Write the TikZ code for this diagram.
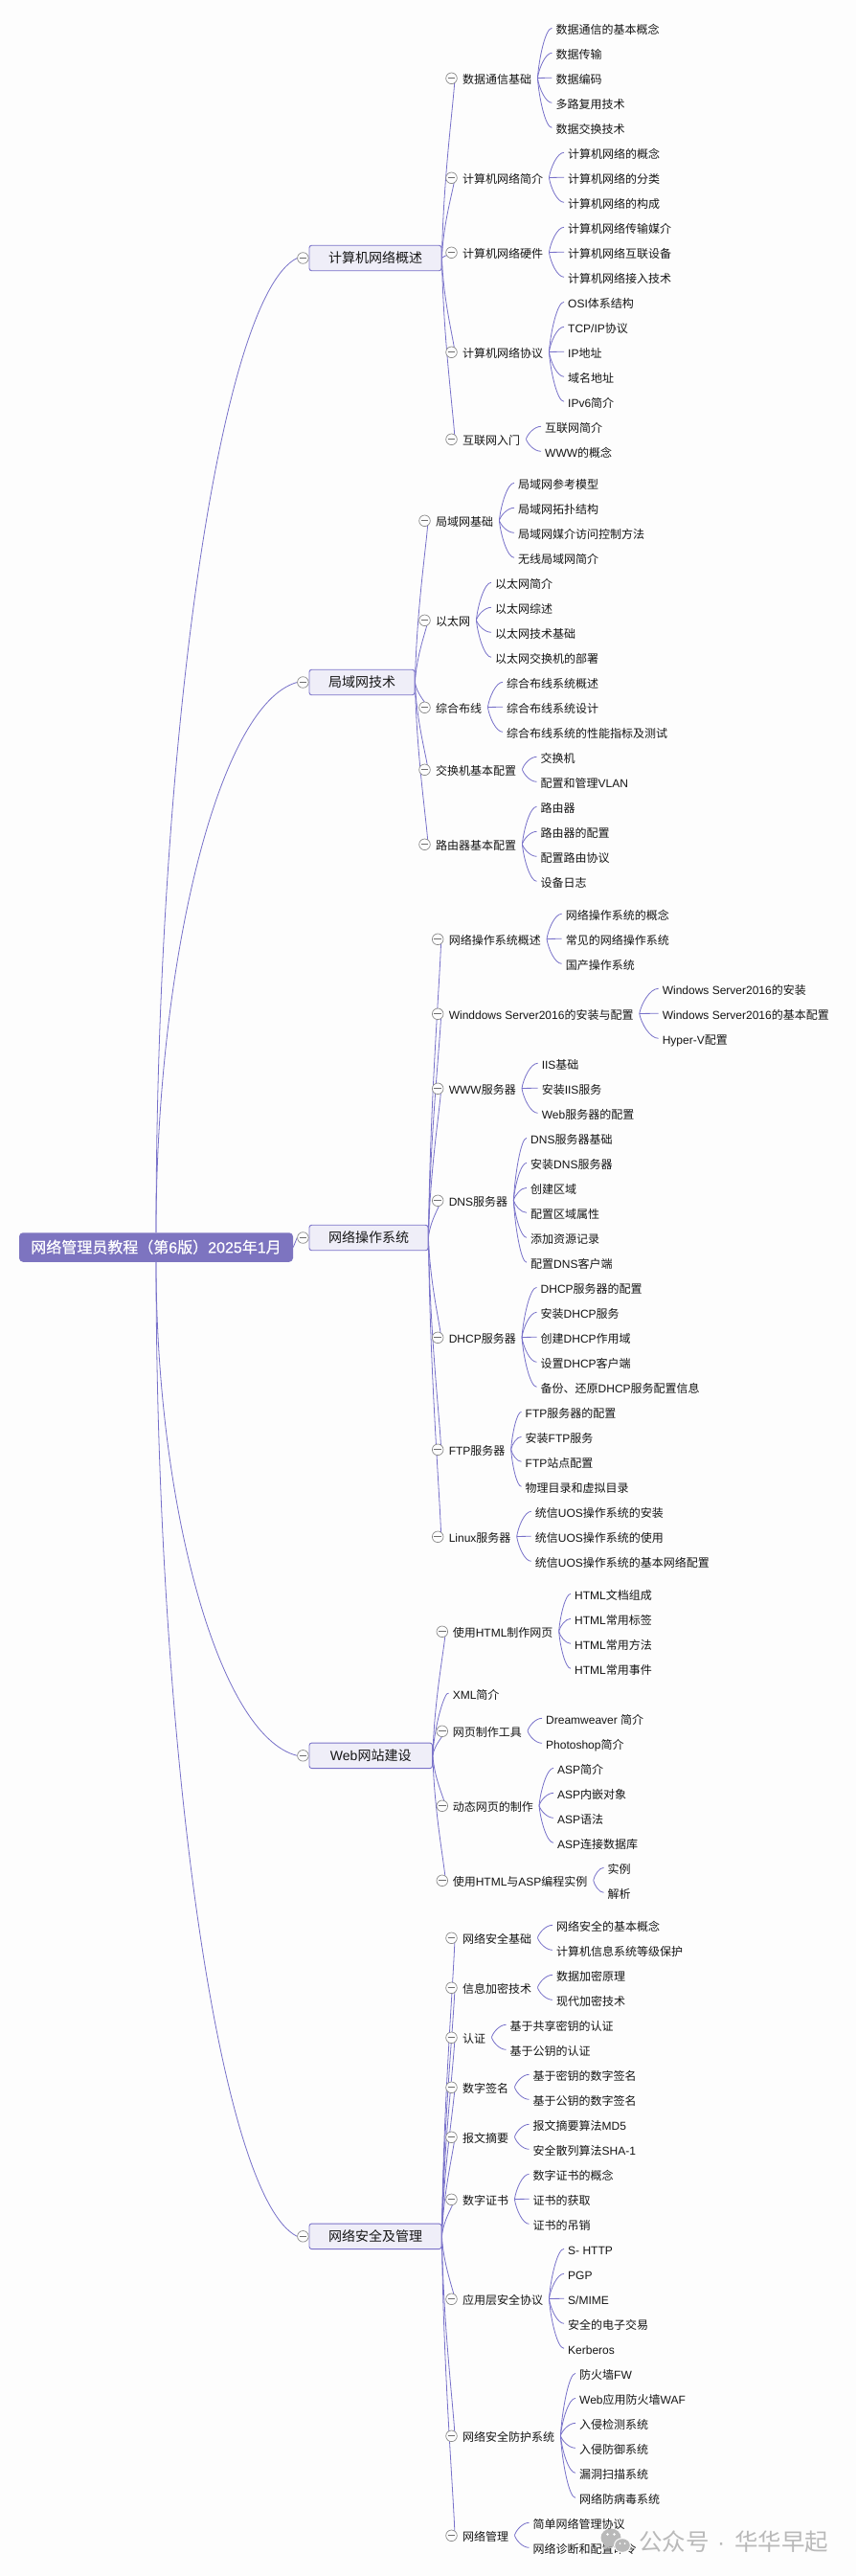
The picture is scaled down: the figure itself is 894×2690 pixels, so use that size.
\documentclass[tikz,border=0pt]{standalone}
\usepackage{fontspec}
\setmainfont{Noto Sans CJK SC}
\newfontfamily\latf{Liberation Sans}
\newfontfamily\rootzh[FakeBold=0.35]{Noto Sans CJK SC}
\newfontfamily\rootla[FakeBold=0.35]{Liberation Sans}
\newcommand\la[1]{{\latf #1}}
\newcommand\rl[1]{{\rootla #1}}
\usetikzlibrary{calc}
\definecolor{bgc}{HTML}{FDFDFD}
\definecolor{conc}{HTML}{7770C9}
\definecolor{boxf}{HTML}{EFEEF8}
\definecolor{boxd}{HTML}{7B73C9}
\definecolor{rootf}{HTML}{7D74C0}
\definecolor{txtc}{HTML}{151515}
\definecolor{circd}{HTML}{8A8A8A}
\definecolor{wmk}{HTML}{B9B9B9}
\pgfdeclarelayer{bg}
\pgfsetlayers{bg,main}
\tikzset{
  conn/.style={draw=conc,line width=0.8pt},
  rootbox/.style={fill=rootf,text=white,rounded corners=4pt,font=\fontsize{16}{18}\rootzh,minimum width=286pt,minimum height=30.5pt,inner sep=0pt,text height=13pt,text depth=1.4pt},
  topbox/.style={fill=boxf,draw=boxd,line width=0.9pt,text=txtc,rounded corners=2.5pt,font=\fontsize{14}{16}\selectfont,minimum height=26.5pt,inner sep=0pt,text height=11.4pt,text depth=1.2pt},
  lab/.style={text=txtc,font=\fontsize{12}{14}\selectfont,inner sep=0pt,anchor=west,text height=10pt,text depth=1.2pt},
  circ/.style={circle,draw=circd,fill=bgc,line width=0.7pt,minimum size=11.6pt,inner sep=0pt},
  minusbar/.style={draw=circd!80!black,line width=0.7pt},
  wmtext/.style={text=wmk,font=\fontsize{24.5}{26}\selectfont,inner sep=0pt,anchor=west,text height=20pt,text depth=2pt}
}
% topic box with its fold circle: name, right x, centre y, text
\newcommand\topic[4]{%
  \pgfmathsetmacro\tw{#2-323}%
  \node[topbox,minimum width=\tw pt] (#1) at ({323+\tw/2},#3) {#4};
  \node[circ] (#1c) at (316.4,#3) {};
  \draw[minusbar] ($(#1c.center)+(-3.8,0)$) -- ($(#1c.center)+(3.8,0)$);
}
% curve from the root to a topic circle: topic, root anchor
\newcommand\rootline[2]{%
  \begin{pgfonlayer}{bg}
  \draw[conn] let \p1=(root.#2), \p2=(#1c.west) in
    (\p1) .. controls (\x1,{\y1+0.49*(\y2-\y1)}) and ({\x1+65pt},{\y2+0.04*(\y1-\y2)}) .. (\p2);
  \end{pgfonlayer}
}
% section: name, parent, y, text (uses \cx and \tx)
\newcommand\sect[4]{%
  \node[lab] (#1) at (\tx,#3) {#4};
  \node[circ] (#1c) at (\cx,{#3-1.2}) {};
  \draw[minusbar] ($(#1c.center)+(-3.8,0)$) -- ($(#1c.center)+(3.8,0)$);
  \begin{pgfonlayer}{bg}
  \draw[conn] let \p1=(#2.east), \p2=($(#1c.center)+(3.5,0)$) in
    (\p1) .. controls ({\x1+1.5pt},{\y1+0.45*(\y2-\y1)}) and ({\x2-1.5pt},{\y1+0.85*(\y2-\y1)}) .. (\p2);
  \end{pgfonlayer}
}
% leaf: name, parent, x, y, text
\newcommand\leaf[5]{%
  \node[lab] (#1) at (#3,#4) {#5};
  \begin{pgfonlayer}{bg}
  \draw[conn] let \p1=($(#2.east)+(6,-1.5)$), \p2=($(#1.west)+(-4,-1.7)$) in
    (\p1) .. controls ({\x1+0.1*(\x2-\x1)},{\y1+0.4*(\y2-\y1)}) and ({\x1+0.55*(\x2-\x1)},\y2) .. (\p2);
  \end{pgfonlayer}
}
\begin{document}
\begin{tikzpicture}[x=1pt,y=-1pt]
\begin{pgfonlayer}{bg}
\fill[bgc] (0,0) rectangle (894,2690);
\end{pgfonlayer}
\useasboundingbox (0,0) rectangle (894,2690);

\node[rootbox] (root) at (163,1302.5) {网络管理员教程（第\rl{6}版）\rl{2025}年\rl{1}月};

\topic{t1}{461}{269.5}{计算机网络概述}
\topic{t2}{433}{712.5}{局域网技术}
\topic{t3}{447}{1292.5}{网络操作系统}
\topic{t4}{451.5}{1833.3}{\la{Web}网站建设}
\topic{t5}{461}{2335.3}{网络安全及管理}
\rootline{t1}{north}
\rootline{t2}{north}
\rootline{t4}{south}
\rootline{t5}{south}
\begin{pgfonlayer}{bg}
\draw[conn] (root.east) -- (t3c.west);
\end{pgfonlayer}

% ---- group 1
\def\cx{471.5}\def\tx{483}
\sect{a}{t1}{83}{数据通信基础}
\sect{b}{t1}{187}{计算机网络简介}
\sect{c}{t1}{265}{计算机网络硬件}
\sect{d}{t1}{369}{计算机网络协议}
\sect{e}{t1}{460}{互联网入门}
\leaf{a1}{a}{580.4}{31}{数据通信的基本概念}
\leaf{a2}{a}{580.4}{57}{数据传输}
\leaf{a3}{a}{580.4}{83}{数据编码}
\leaf{a4}{a}{580.4}{109}{多路复用技术}
\leaf{a5}{a}{580.4}{135}{数据交换技术}
\leaf{b1}{b}{593}{161}{计算机网络的概念}
\leaf{b2}{b}{593}{187}{计算机网络的分类}
\leaf{b3}{b}{593}{213}{计算机网络的构成}
\leaf{c1}{c}{593}{239}{计算机网络传输媒介}
\leaf{c2}{c}{593}{265}{计算机网络互联设备}
\leaf{c3}{c}{593}{291}{计算机网络接入技术}
\leaf{d1}{d}{593}{317}{\la{OSI}体系结构}
\leaf{d2}{d}{593}{343}{\la{TCP/IP}协议}
\leaf{d3}{d}{593}{369}{\la{IP}地址}
\leaf{d4}{d}{593}{395}{域名地址}
\leaf{d5}{d}{593}{421}{\la{IPv6}简介}
\leaf{e1}{e}{569}{447}{互联网简介}
\leaf{e2}{e}{569}{473}{\la{WWW}的概念}

% ---- group 2
\def\cx{443.5}\def\tx{455}
\sect{f}{t2}{545}{局域网基础}
\sect{g}{t2}{649}{以太网}
\sect{h}{t2}{740}{综合布线}
\sect{i}{t2}{805}{交换机基本配置}
\sect{j}{t2}{883}{路由器基本配置}
\leaf{f1}{f}{541}{506}{局域网参考模型}
\leaf{f2}{f}{541}{532}{局域网拓扑结构}
\leaf{f3}{f}{541}{558}{局域网媒介访问控制方法}
\leaf{f4}{f}{541}{584}{无线局域网简介}
\leaf{g1}{g}{517}{610}{以太网简介}
\leaf{g2}{g}{517}{636}{以太网综述}
\leaf{g3}{g}{517}{662}{以太网技术基础}
\leaf{g4}{g}{517}{688}{以太网交换机的部署}
\leaf{h1}{h}{529}{714}{综合布线系统概述}
\leaf{h2}{h}{529}{740}{综合布线系统设计}
\leaf{h3}{h}{529}{766}{综合布线系统的性能指标及测试}
\leaf{i1}{i}{564.5}{792}{交换机}
\leaf{i2}{i}{564.5}{818}{配置和管理\la{VLAN}}
\leaf{j1}{j}{564.5}{844}{路由器}
\leaf{j2}{j}{564.5}{870}{路由器的配置}
\leaf{j3}{j}{564.5}{896}{配置路由协议}
\leaf{j4}{j}{564.5}{922}{设备日志}

% ---- group 3
\def\cx{457.2}\def\tx{468.6}
\sect{k}{t3}{982}{网络操作系统概述}
\sect{l}{t3}{1060}{\la{Winddows Server2016}的安装与配置}
\sect{m}{t3}{1138}{\la{WWW}服务器}
\sect{n}{t3}{1255}{\la{DNS}服务器}
\sect{o}{t3}{1398}{\la{DHCP}服务器}
\sect{p}{t3}{1515}{\la{FTP}服务器}
\sect{q}{t3}{1606}{\la{Linux}服务器}
\leaf{k1}{k}{590.6}{956}{网络操作系统的概念}
\leaf{k2}{k}{590.6}{982}{常见的网络操作系统}
\leaf{k3}{k}{590.6}{1008}{国产操作系统}
\leaf{l1}{l}{691.6}{1034}{\la{Windows Server2016}的安装}
\leaf{l2}{l}{691.6}{1060}{\la{Windows Server2016}的基本配置}
\leaf{l3}{l}{691.6}{1086}{\la{Hyper-V}配置}
\leaf{m1}{m}{565.6}{1112}{\la{IIS}基础}
\leaf{m2}{m}{565.6}{1138}{安装\la{IIS}服务}
\leaf{m3}{m}{565.6}{1164}{\la{Web}服务器的配置}
\leaf{n1}{n}{554}{1190}{\la{DNS}服务器基础}
\leaf{n2}{n}{554}{1216}{安装\la{DNS}服务器}
\leaf{n3}{n}{554}{1242}{创建区域}
\leaf{n4}{n}{554}{1268}{配置区域属性}
\leaf{n5}{n}{554}{1294}{添加资源记录}
\leaf{n6}{n}{554}{1320}{配置\la{DNS}客户端}
\leaf{o1}{o}{564.5}{1346}{\la{DHCP}服务器的配置}
\leaf{o2}{o}{564.5}{1372}{安装\la{DHCP}服务}
\leaf{o3}{o}{564.5}{1398}{创建\la{DHCP}作用域}
\leaf{o4}{o}{564.5}{1424}{设置\la{DHCP}客户端}
\leaf{o5}{o}{564.5}{1450}{备份、还原\la{DHCP}服务配置信息}
\leaf{p1}{p}{548.5}{1476}{\la{FTP}服务器的配置}
\leaf{p2}{p}{548.5}{1502}{安装\la{FTP}服务}
\leaf{p3}{p}{548.5}{1528}{\la{FTP}站点配置}
\leaf{p4}{p}{548.5}{1554}{物理目录和虚拟目录}
\leaf{q1}{q}{558.7}{1580}{统信\la{UOS}操作系统的安装}
\leaf{q2}{q}{558.7}{1606}{统信\la{UOS}操作系统的使用}
\leaf{q3}{q}{558.7}{1632}{统信\la{UOS}操作系统的基本网络配置}

% ---- group 4
\def\cx{461.8}\def\tx{472.6}
\sect{r}{t4}{1705}{使用\la{HTML}制作网页}
\node[lab] (xml) at (\tx,1770) {\la{XML}简介};
\begin{pgfonlayer}{bg}
\draw[conn] let \p1=(t4.east), \p2=($(xml.west)+(-4,-1.7)$) in
  (\p1) .. controls ({\x1+1.5pt},{\y1+0.5*(\y2-\y1)}) and ({\x2-3.5pt},{\y2+4pt}) .. (\p2);
\end{pgfonlayer}
\sect{s}{t4}{1809}{网页制作工具}
\sect{u}{t4}{1887}{动态网页的制作}
\sect{v}{t4}{1965}{使用\la{HTML}与\la{ASP}编程实例}
\leaf{r1}{r}{600}{1666}{\la{HTML}文档组成}
\leaf{r2}{r}{600}{1692}{\la{HTML}常用标签}
\leaf{r3}{r}{600}{1718}{\la{HTML}常用方法}
\leaf{r4}{r}{600}{1744}{\la{HTML}常用事件}
\leaf{s1}{s}{570}{1796}{\la{Dreamweaver }简介}
\leaf{s2}{s}{570}{1822}{\la{Photoshop}简介}
\leaf{u1}{u}{582}{1848}{\la{ASP}简介}
\leaf{u2}{u}{582}{1874}{\la{ASP}内嵌对象}
\leaf{u3}{u}{582}{1900}{\la{ASP}语法}
\leaf{u4}{u}{582}{1926}{\la{ASP}连接数据库}
\leaf{v1}{v}{634.5}{1952}{实例}
\leaf{v2}{v}{634.5}{1978}{解析}

% ---- group 5
\def\cx{471.5}\def\tx{483}
\sect{w}{t5}{2025}{网络安全基础}
\sect{x}{t5}{2077}{信息加密技术}
\sect{y}{t5}{2129}{认证}
\sect{z}{t5}{2181}{数字签名}
\sect{aa}{t5}{2233}{报文摘要}
\sect{ab}{t5}{2298}{数字证书}
\sect{ac}{t5}{2402}{应用层安全协议}
\sect{ad}{t5}{2545}{网络安全防护系统}
\sect{ae}{t5}{2649}{网络管理}
\leaf{w1}{w}{581}{2012}{网络安全的基本概念}
\leaf{w2}{w}{581}{2038}{计算机信息系统等级保护}
\leaf{x1}{x}{581}{2064}{数据加密原理}
\leaf{x2}{x}{581}{2090}{现代加密技术}
\leaf{y1}{y}{532.5}{2116}{基于共享密钥的认证}
\leaf{y2}{y}{532.5}{2142}{基于公钥的认证}
\leaf{z1}{z}{556.5}{2168}{基于密钥的数字签名}
\leaf{z2}{z}{556.5}{2194}{基于公钥的数字签名}
\leaf{aa1}{aa}{556.5}{2220}{报文摘要算法\la{MD5}}
\leaf{aa2}{aa}{556.5}{2246}{安全散列算法\la{SHA-1}}
\leaf{ab1}{ab}{556.5}{2272}{数字证书的概念}
\leaf{ab2}{ab}{556.5}{2298}{证书的获取}
\leaf{ab3}{ab}{556.5}{2324}{证书的吊销}
\leaf{ac1}{ac}{593}{2350}{\la{S- HTTP}}
\leaf{ac2}{ac}{593}{2376}{\la{PGP}}
\leaf{ac3}{ac}{593}{2402}{\la{S/MIME}}
\leaf{ac4}{ac}{593}{2428}{安全的电子交易}
\leaf{ac5}{ac}{593}{2454}{\la{Kerberos}}
\leaf{ad1}{ad}{605}{2480}{防火墙\la{FW}}
\leaf{ad2}{ad}{605}{2506}{\la{Web}应用防火墙\la{WAF}}
\leaf{ad3}{ad}{605}{2532}{入侵检测系统}
\leaf{ad4}{ad}{605}{2558}{入侵防御系统}
\leaf{ad5}{ad}{605}{2584}{漏洞扫描系统}
\leaf{ad6}{ad}{605}{2610}{网络防病毒系统}
\leaf{ae1}{ae}{556.5}{2636}{简单网络管理协议}
\leaf{ae2}{ae}{556.5}{2662}{网络诊断和配置命令}

% ---- watermark
\fill[wmk] (638,2650) ellipse (10.5 and 9.5);
\fill[wmk] (632,2657) -- (630,2663) -- (637,2659) -- cycle;
\fill[bgc] (650,2658) ellipse (9 and 8);
\fill[wmk] (650,2658) ellipse (7.8 and 6.8);
\fill[bgc] (634.5,2646.5) circle (1.3) (641.5,2646.5) circle (1.3) (647.5,2656) circle (1) (652.5,2656) circle (1);
\node[wmtext] (wm1) at (667,2654) {公众号};
\node[wmtext] (wm2) at (749,2654) {\la{·}};
\node[wmtext] (wm3) at (767,2654) {华华早起};
\end{tikzpicture}
\end{document}
